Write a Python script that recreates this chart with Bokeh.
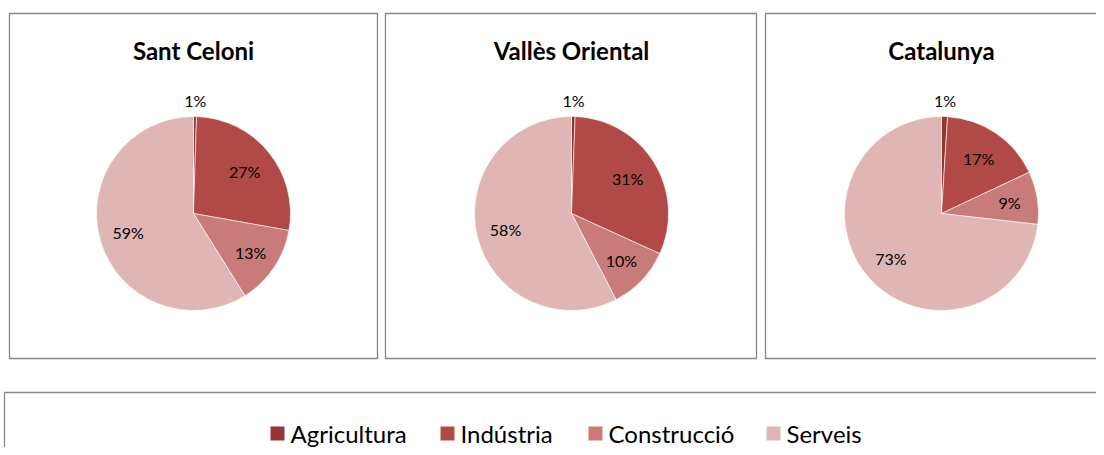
import math
from bokeh.plotting import figure
from bokeh.models import Range1d, ColumnDataSource
from bokeh.core.properties import value
from bokeh.embed import file_html
from bokeh.resources import INLINE

# ---- data ----
categories = ["Agricultura", "Indústria", "Construcció", "Serveis"]
regions = ["Sant Celoni", "Vallès Oriental", "Catalunya"]
sant_celoni = [0.5, 27.3, 13.3, 58.9]
valles_oriental = [0.6, 31.2, 10.6, 57.6]
catalunya = [1.0, 17.0, 8.8, 73.2]
labels_sc = ["1%", "27%", "13%", "59%"]
labels_vo = ["1%", "31%", "10%", "58%"]
labels_ca = ["1%", "17%", "9%", "73%"]

# ---- style ----
colors = ["#943634", "#B14A47", "#C97B79", "#DFB6B5"]
label_dist = [1.17, 0.68, 0.71, 0.70]
FONT = "Lato"

W, H = 1096, 447


def Y(ypix):
    return H - ypix


p = figure(width=W, height=H, output_backend="svg", toolbar_location=None,
           x_range=Range1d(0, W), y_range=Range1d(0, H),
           min_border=0, outline_line_color=None)
p.axis.visible = False
p.grid.visible = False
p.background_fill_color = "white"

# panel boxes: (left, top, right, bottom)
panels = [(9, 13, 377, 358), (385, 13, 756, 358), (765, 13, 1110, 358)]
centers = [193, 571, 941]
cy = 213
R = 97
datasets = [sant_celoni, valles_oriental, catalunya]
labelsets = [labels_sc, labels_vo, labels_ca]

for (l, t, r, b), cx, vals, labs, name in zip(panels, centers, datasets, labelsets, regions):
    p.quad(left=l, right=r, top=Y(t), bottom=Y(b), fill_color=None,
           line_color="#868686", line_width=1.3)
    p.text(x=[cx], y=[Y(50)], text=[name], text_font=value(FONT),
           text_font_style="bold", text_font_size="24px", text_align="center",
           text_baseline="middle", text_color="black")
    total = sum(vals)
    cum = 0.0
    starts, ends, lx, ly = [], [], [], []
    for i, v in enumerate(vals):
        a0 = math.pi / 2 - 2 * math.pi * cum / total
        a1 = math.pi / 2 - 2 * math.pi * (cum + v) / total
        mid = math.pi / 2 - 2 * math.pi * (cum + v / 2) / total
        starts.append(a0)
        ends.append(a1)
        d = label_dist[i] * R
        lx.append(cx + d * math.cos(mid))
        ly.append(Y(cy) + d * math.sin(mid))
        cum += v
    src = ColumnDataSource(dict(s=starts, e=ends, c=colors))
    p.wedge(x=cx, y=Y(cy), radius=R, start_angle="s", end_angle="e",
            direction="clock", fill_color="c", line_color="white",
            line_width=0.6, source=src)
    p.text(x=lx, y=ly, text=labs, text_font=value(FONT), text_font_size="16px",
           text_align="center", text_baseline="middle", text_color="black")

# legend box
p.quad(left=4, right=1110, top=Y(392), bottom=Y(470), fill_color=None,
       line_color="#868686", line_width=1.3)
leg_x = [270, 440, 588, 766]
for x, c, name in zip(leg_x, colors, categories):
    p.quad(left=x, right=x + 14, top=Y(426), bottom=Y(440), fill_color=c,
           line_color=None)
    p.text(x=[x + 20], y=[Y(433)], text=[name], text_font=value(FONT),
           text_font_size="24px", text_align="left", text_baseline="middle",
           text_color="black")

open("out.html", "w").write(file_html(p, INLINE))
